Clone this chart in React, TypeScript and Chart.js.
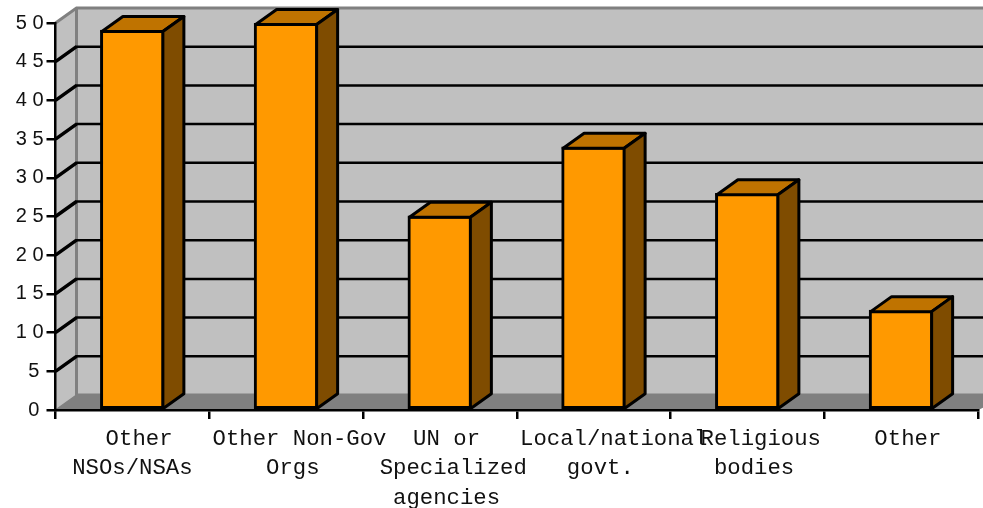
import React, { useEffect, useRef } from "react";
import { Chart, registerables } from "chart.js";

Chart.register(...registerables);

const categories: string[][] = [
  [" Other", "NSOs/NSAs"],
  ["  Other Non-Gov", " Orgs"],
  [" UN or", "  Specialized", " agencies"],
  ["   Local/national", " govt."],
  ["  Religious", " bodies"],
  [" Other"],
];
const values: number[] = [49.1, 50, 25.1, 34, 28, 12.9];
const yMax = 50;
const yStep = 5;

const DX = 21;
const DY = 15;
const WALL = "#C0C0C0";
const FLOOR = "#808080";
const EDGE = "#808080";
const FRONT = "#FF9900";
const TOP = "#BF7300";
const SIDE = "#7F4C00";
const INK = "#000000";

function poly(ctx: CanvasRenderingContext2D, pts: number[][], fill?: string, stroke?: string, lw = 3) {
  ctx.beginPath();
  pts.forEach(([x, y], i) => (i ? ctx.lineTo(x, y) : ctx.moveTo(x, y)));
  ctx.closePath();
  if (fill) {
    ctx.fillStyle = fill;
    ctx.fill();
  }
  if (stroke) {
    ctx.strokeStyle = stroke;
    ctx.lineWidth = lw;
    ctx.lineJoin = "round";
    ctx.stroke();
  }
}

const box3d = {
  id: "box3d",
  beforeDraw(chart: any) {
    const { ctx, chartArea: a, scales } = chart;
    const y = scales.y;
    const W = chart.width;
    const y0 = y.getPixelForValue(0);
    const yTop = y.getPixelForValue(yMax);
    ctx.save();
    poly(ctx, [[a.left + DX, yTop - DY], [W + 2, yTop - DY], [W + 2, y0 - DY], [a.left + DX, y0 - DY]], WALL);
    poly(ctx, [[a.left, yTop], [a.left + DX, yTop - DY], [a.left + DX, y0 - DY], [a.left, y0]], WALL);
    poly(ctx, [[a.left, y0], [a.left + DX, y0 - DY], [W + 2, y0 - DY], [W + 2, y0 - 3], [a.right, y0]], FLOOR);
    ctx.strokeStyle = EDGE;
    ctx.lineWidth = 3;
    ctx.beginPath();
    ctx.moveTo(a.left, yTop);
    ctx.lineTo(a.left + DX, yTop - DY);
    ctx.lineTo(W + 2, yTop - DY);
    ctx.moveTo(a.left + DX, yTop - DY);
    ctx.lineTo(a.left + DX, y0 - DY);
    ctx.lineTo(W + 2, y0 - DY);
    ctx.stroke();
    ctx.lineWidth = 1.5;
    ctx.beginPath();
    ctx.moveTo(a.left, y0);
    ctx.lineTo(a.left + DX, y0 - DY);
    ctx.stroke();
    ctx.strokeStyle = INK;
    ctx.lineWidth = 2.5;
    ctx.beginPath();
    for (let v = yStep; v < yMax; v += yStep) {
      const p = y.getPixelForValue(v);
      ctx.moveTo(a.left + DX - 1, p - DY);
      ctx.lineTo(W + 2, p - DY);
    }
    ctx.stroke();
    ctx.lineWidth = 3.5;
    ctx.beginPath();
    for (let v = yStep; v < yMax; v += yStep) {
      const p = y.getPixelForValue(v);
      ctx.moveTo(a.left, p);
      ctx.lineTo(a.left + DX, p - DY);
    }
    ctx.stroke();
    ctx.restore();
  },
  afterDatasetsDraw(chart: any) {
    const { ctx } = chart;
    const meta = chart.getDatasetMeta(0);
    ctx.save();
    meta.data.forEach((bar: any) => {
      const p = bar.getProps(["x", "y", "base", "width"], true);
      const l = p.x - p.width / 2 + 1.5;
      const r = p.x + p.width / 2 - 1.5;
      const t = p.y + 1.5;
      poly(ctx, [[l, t], [l + DX, t - DY], [r + DX, t - DY], [r, t]], TOP, INK);
      poly(ctx, [[r, t], [r + DX, t - DY], [r + DX, p.base - DY], [r, p.base]], SIDE, INK);
    });
    ctx.restore();
  },
};

export default function App() {
  const ref = useRef<HTMLCanvasElement>(null);
  useEffect(() => {
    const chart = new Chart(ref.current!, {
      type: "bar",
      data: {
        labels: categories,
        datasets: [
          {
            data: values,
            backgroundColor: FRONT,
            borderColor: INK,
            borderWidth: 3,
            borderSkipped: false,
            barThickness: 64,
          },
        ],
      },
      options: {
        animation: false,
        responsive: false,
        devicePixelRatio: 1,
        layout: { padding: { top: 23, right: 5, left: 0, bottom: 0 } },
        plugins: { legend: { display: false }, title: { display: false }, tooltip: { enabled: false } },
        scales: {
          x: {
            grid: { drawOnChartArea: false, drawTicks: true, tickLength: 9, color: INK, lineWidth: 2.5, offset: true },
            border: { color: INK, width: 2.5 },
            ticks: {
              autoSkip: false,
              maxRotation: 0,
              minRotation: 0,
              padding: 5,
              color: "#111111",
              font: { family: "'Liberation Mono'", size: 22.3, lineHeight: 1.33 },
            },
            afterFit(s: any) {
              s.height = 98;
            },
          },
          y: {
            min: 0,
            max: yMax,
            grid: { drawOnChartArea: false, drawTicks: true, tickLength: 9, color: INK, lineWidth: 2.5 },
            border: { color: INK, width: 2.5 },
            ticks: {
              stepSize: yStep,
              padding: 3,
              color: "#111111",
              font: { family: "'Liberation Sans'", size: 20 },
              callback: (v: any) => (v < 10 ? `${v}\u2009` : String(v).split("").join(" ")),
            },
            afterFit(s: any) {
              s.width = 55.5;
            },
          },
        },
      },
      plugins: [box3d],
    } as any);
    return () => chart.destroy();
  }, []);
  return (
    <canvas
      ref={ref}
      width={983}
      height={508}
      style={{ position: "absolute", left: 0, top: 0, width: 983, height: 508, display: "block" }}
    />
  );
}
